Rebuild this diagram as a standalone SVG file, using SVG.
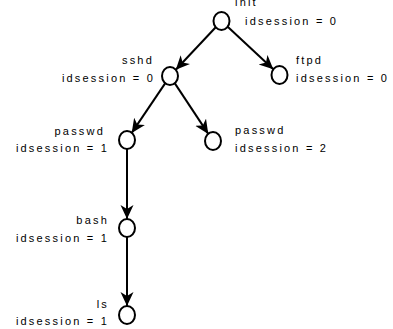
<svg xmlns="http://www.w3.org/2000/svg" width="393" height="329" viewBox="0 0 393 329">
<style>
.n{fill:#fff;stroke:#000;stroke-width:2}
.t{font-family:"Liberation Sans",Arial,sans-serif;font-size:11px;letter-spacing:2.2px;fill:#000}
.e{text-anchor:end}
.c{stroke:#000;stroke-width:2;fill:none;marker-end:url(#ah)}
</style>
<defs>
<marker id="ah" markerUnits="userSpaceOnUse" markerWidth="16" markerHeight="16" refX="14" refY="6.5" orient="auto">
<path d="M0,0 L14,6.5 L0,13 L4,6.5 Z" fill="#000"/>
</marker>
</defs>
<rect width="393" height="329" fill="#fff"/>
<g id="connectors">
<line class="c" x1="215.7" y1="27.2" x2="175.8" y2="69.8"/>
<line class="c" x1="227.7" y1="26.8" x2="273.3" y2="69.2"/>
<line class="c" x1="165.3" y1="83.1" x2="131.7" y2="132.9"/>
<line class="c" x1="174.7" y1="83.1" x2="208.3" y2="133.9"/>
<line class="c" x1="127" y1="149" x2="127" y2="219"/>
<line class="c" x1="127" y1="237" x2="127" y2="306"/>
</g>
<g id="init">
<ellipse class="n" cx="221.5" cy="21" rx="8" ry="9"/>
<text class="t" x="235" y="6">init</text>
<text class="t" x="245" y="25">idsession = 0</text>
</g>
<g id="ftpd">
<ellipse class="n" cx="279.5" cy="75" rx="8" ry="9"/>
<text class="t" x="296" y="64">ftpd</text>
<text class="t" x="296" y="82">idsession = 0</text>
</g>
<g id="sshd">
<ellipse class="n" cx="170" cy="76" rx="8" ry="9"/>
<text class="t e" x="154" y="64">sshd</text>
<text class="t e" x="155" y="82">idsession = 0</text>
</g>
<g id="passwd1">
<ellipse class="n" cx="127" cy="140" rx="8" ry="9"/>
<text class="t e" x="105" y="135">passwd</text>
<text class="t e" x="109" y="152">idsession = 1</text>
</g>
<g id="passwd2">
<ellipse class="n" cx="213" cy="141" rx="8" ry="9"/>
<text class="t" x="235" y="134">passwd</text>
<text class="t" x="235" y="152">idsession = 2</text>
</g>
<g id="bash">
<ellipse class="n" cx="127" cy="228" rx="8" ry="9"/>
<text class="t e" x="109" y="224">bash</text>
<text class="t e" x="109" y="242">idsession = 1</text>
</g>
<g id="ls">
<ellipse class="n" cx="127" cy="315" rx="8" ry="9"/>
<text class="t e" x="109" y="308">ls</text>
<text class="t e" x="109" y="325">idsession = 1</text>
</g>
</svg>
